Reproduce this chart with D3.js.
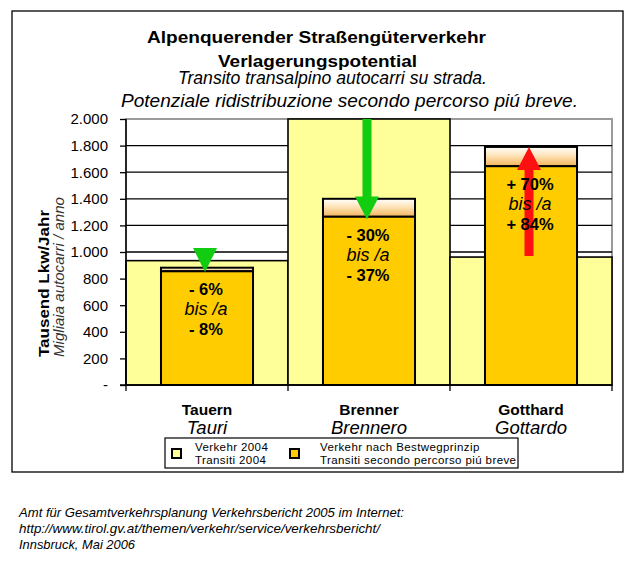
<!DOCTYPE html>
<html>
<head>
<meta charset="utf-8">
<script src="https://cdn.jsdelivr.net/npm/d3@7"></script>
<style>
  html, body { margin: 0; padding: 0; background: #fff; }
  svg { display: block; font-family: "Liberation Sans", Arial, sans-serif; }
</style>
</head>
<body>
<svg id="chart" width="637" height="586"></svg>
<script>
// ---- data ----
const categories   = ["Tauern", "Brenner", "Gotthard"];
const categoriesIt = ["Tauri", "Brennero", "Gottardo"];
const traffic2004  = [935, 2000, 962];      // Verkehr 2004 / Transiti 2004
const bestwegLow   = [855, 1265, 1645];     // Verkehr nach Bestwegprinzip (lower estimate)
const bestwegHigh  = [882, 1400, 1790];     // upper estimate
const changeFirst  = ["- 6%", "- 30%", "+ 70%"];
const changeSecond = ["- 8%", "- 37%", "+ 84%"];
const arrowFrom    = [1030, 2000, 970];
const arrowTo      = [850, 1245, 1790];
const arrowColor   = ["#11cc11", "#11cc11", "#ff1010"];
const yTicks       = [0, 200, 400, 600, 800, 1000, 1200, 1400, 1600, 1800, 2000];
const yTickLabels  = ["-", "200", "400", "600", "800", "1.000", "1.200", "1.400", "1.600", "1.800", "2.000"];
const legendLabels = [["Verkehr 2004", "Transiti 2004"], ["Verkehr nach Bestwegprinzip", "Transiti secondo percorso piú breve"]];
const titleLines   = ["Alpenquerender Straßengüterverkehr", "Verlagerungspotential"];
const subtitleLines = ["Transito transalpino autocarri su strada.", "Potenziale ridistribuzione secondo percorso piú breve."];
const footerLines  = ["Amt für Gesamtverkehrsplanung Verkehrsbericht 2005 im Internet:",
                      "http://www.tirol.gv.at/themen/verkehr/service/verkehrsbericht/",
                      "Innsbruck, Mai 2006"];

// ---- layout ----
const svg = d3.select("#chart");
const plot = { left: 126, right: 612, top: 119, bottom: 385 };
const LIGHT = "#ffff99", GOLD = "#ffcc00";

const x = d3.scaleBand().domain(categories).range([plot.left, plot.right]).padding(0);
const y = d3.scaleLinear().domain([0, 2000]).range([plot.bottom, plot.top]);
const inner = d3.scaleBand().domain([0]).range([0, x.bandwidth()]).paddingInner(0).paddingOuter(0.38);

// gradient
const defs = svg.append("defs");
const grad = defs.append("linearGradient").attr("id", "band").attr("x1", 0).attr("y1", 0).attr("x2", 0).attr("y2", 1);
grad.append("stop").attr("offset", "0%").attr("stop-color", "#ffffff");
grad.append("stop").attr("offset", "45%").attr("stop-color", "#fde3b8");
grad.append("stop").attr("offset", "100%").attr("stop-color", "#f4b45a");

// outer frame
svg.append("rect").attr("x", 12).attr("y", 11).attr("width", 611).attr("height", 461)
  .attr("fill", "#fff").attr("stroke", "#000").attr("stroke-width", 1.3);

// plot background + gray border
svg.append("rect").attr("x", plot.left).attr("y", plot.top)
  .attr("width", plot.right - plot.left).attr("height", plot.bottom - plot.top)
  .attr("fill", "#fff").attr("stroke", "#9a9a9a").attr("stroke-width", 2);

// gridlines
svg.append("g").selectAll("line").data(yTicks.filter(d => d > 0 && d < 2000)).join("line")
  .attr("x1", plot.left).attr("x2", plot.right)
  .attr("y1", d => y(d)).attr("y2", d => y(d))
  .attr("stroke", "#000").attr("stroke-width", 1.3);

// 2004 bars (full band width)
svg.append("g").selectAll("rect").data(categories).join("rect")
  .attr("x", d => x(d)).attr("width", x.bandwidth())
  .attr("y", (d, i) => y(traffic2004[i])).attr("height", (d, i) => y(0) - y(traffic2004[i]))
  .attr("fill", LIGHT).attr("stroke", "#000").attr("stroke-width", 1.6);

// Bestweg range strip (gradient between low and high estimate)
svg.append("g").selectAll("rect").data(categories).join("rect")
  .attr("x", d => x(d) + inner(0)).attr("width", inner.bandwidth())
  .attr("y", (d, i) => y(bestwegHigh[i])).attr("height", (d, i) => y(bestwegLow[i]) - y(bestwegHigh[i]))
  .attr("fill", "url(#band)").attr("stroke", "#000").attr("stroke-width", 2);

// Bestweg solid bars
svg.append("g").selectAll("rect").data(categories).join("rect")
  .attr("x", d => x(d) + inner(0)).attr("width", inner.bandwidth())
  .attr("y", (d, i) => y(bestwegLow[i])).attr("height", (d, i) => y(0) - y(bestwegLow[i]))
  .attr("fill", GOLD).attr("stroke", "#000").attr("stroke-width", 2);

// y axis
const yAxis = svg.append("g").attr("transform", `translate(${plot.left},0)`)
  .call(d3.axisLeft(y).tickValues(yTicks).tickFormat((d, i) => yTickLabels[i]).tickSize(6).tickPadding(12));
yAxis.select(".domain").attr("stroke", "#000").attr("stroke-width", 1.5).attr("d", `M0,${plot.top}V${plot.bottom}`);
yAxis.selectAll(".tick line").attr("stroke", "#000").attr("stroke-width", 1.3);
yAxis.selectAll(".tick text").attr("font-size", 15).attr("fill", "#000")
  .attr("font-family", "Liberation Sans, Arial, sans-serif");

// x axis
const xAxis = svg.append("g").attr("transform", `translate(0,${plot.bottom})`)
  .call(d3.axisBottom(x).tickSize(0).tickFormat(""));
xAxis.select(".domain").attr("stroke", "#000").attr("stroke-width", 1.6).attr("d", `M${plot.left - 6},0H${plot.right}`);
svg.append("g").selectAll("line").data([0, 1, 2, 3]).join("line")
  .attr("x1", i => plot.left + i * x.bandwidth()).attr("x2", i => plot.left + i * x.bandwidth())
  .attr("y1", plot.bottom).attr("y2", plot.bottom + 6)
  .attr("stroke", "#000").attr("stroke-width", 1.3);

// arrows
const headL = 23, headW = 24, shaftW = 9;
svg.append("g").selectAll("path").data(categories).join("path")
  .attr("fill", (d, i) => arrowColor[i])
  .attr("d", (d, i) => {
    const cx = x(d) + x.bandwidth() / 2 - 2;
    const y0 = y(arrowFrom[i]), y1 = y(arrowTo[i]);
    const dir = y1 > y0 ? 1 : -1;
    const len = Math.abs(y1 - y0);
    const hb = y1 - dir * headL;
    if (len <= headL + 1) {
      return `M${cx - headW / 2},${y0}L${cx + headW / 2},${y0}L${cx},${y1}Z`;
    }
    return `M${cx - shaftW / 2},${y0}L${cx + shaftW / 2},${y0}L${cx + shaftW / 2},${hb}` +
           `L${cx + headW / 2},${hb}L${cx},${y1}L${cx - headW / 2},${hb}L${cx - shaftW / 2},${hb}Z`;
  });

// percentage labels
const lbl = svg.append("g").attr("text-anchor", "middle").attr("fill", "#000");
categories.forEach((c, i) => {
  const cx = x(c) + x.bandwidth() / 2 - 1;
  const by = y(bestwegLow[i]) + 24;
  lbl.append("text").attr("x", cx).attr("y", by).attr("font-weight", "bold").attr("font-size", 16.5).text(changeFirst[i]);
  lbl.append("text").attr("x", cx).attr("y", by + 20).attr("font-style", "italic").attr("font-size", 18).text("bis /a");
  lbl.append("text").attr("x", cx).attr("y", by + 40).attr("font-weight", "bold").attr("font-size", 16.5).text(changeSecond[i]);
});

// category labels
const cat = svg.append("g").attr("text-anchor", "middle").attr("fill", "#000");
categories.forEach((c, i) => {
  const cx = x(c) + x.bandwidth() / 2;
  cat.append("text").attr("x", cx).attr("y", 415).attr("font-weight", "bold").attr("font-size", 15.5).text(c);
  cat.append("text").attr("x", cx).attr("y", 434).attr("font-style", "italic").attr("font-size", 18.5).text(categoriesIt[i]);
});

// titles
svg.append("text").attr("x", 316.5).attr("y", 43).attr("text-anchor", "middle")
  .attr("font-weight", "bold").attr("font-size", 16.5).attr("textLength", 339).attr("lengthAdjust", "spacingAndGlyphs").text(titleLines[0]);
svg.append("text").attr("x", 317.5).attr("y", 66.5).attr("text-anchor", "middle")
  .attr("font-weight", "bold").attr("font-size", 16.5).attr("textLength", 199).attr("lengthAdjust", "spacingAndGlyphs").text(titleLines[1]);
svg.append("text").attr("x", 332.5).attr("y", 84).attr("text-anchor", "middle")
  .attr("font-style", "italic").attr("font-size", 17.5).attr("textLength", 309).attr("lengthAdjust", "spacingAndGlyphs").text(subtitleLines[0]);
svg.append("text").attr("x", 349.5).attr("y", 107).attr("text-anchor", "middle")
  .attr("font-style", "italic").attr("font-size", 17.5).attr("textLength", 457).attr("lengthAdjust", "spacingAndGlyphs").text(subtitleLines[1]);

// y axis titles
svg.append("text").attr("transform", "translate(49,357) rotate(-90)")
  .attr("font-weight", "bold").attr("font-size", 15).attr("textLength", 147).attr("lengthAdjust", "spacingAndGlyphs")
  .text("Tausend Lkw/Jahr");
svg.append("text").attr("transform", "translate(64,357) rotate(-90)")
  .attr("font-style", "italic").attr("font-size", 14).attr("fill", "#333").attr("textLength", 160).attr("lengthAdjust", "spacingAndGlyphs")
  .text("Migliaia autocarri / anno");

// legend
const lg = svg.append("g");
lg.append("rect").attr("x", 165).attr("y", 438).attr("width", 353).attr("height", 30)
  .attr("fill", "#fff").attr("stroke", "#000").attr("stroke-width", 1.2);
const legendItems = [{ fill: LIGHT, mx: 172, tx: 195 }, { fill: GOLD, mx: 290, tx: 320 }];
legendItems.forEach((it, i) => {
  lg.append("rect").attr("x", it.mx).attr("y", 449).attr("width", 9).attr("height", 9)
    .attr("fill", it.fill).attr("stroke", "#000").attr("stroke-width", 2);
  lg.append("text").attr("x", it.tx).attr("y", 451).attr("font-size", 11.5).attr("letter-spacing", 0.4).text(legendLabels[i][0]);
  lg.append("text").attr("x", it.tx).attr("y", 464).attr("font-size", 11.5).attr("letter-spacing", 0.4).text(legendLabels[i][1]);
});

// footer
const footLens = [385, 361, 116];
footerLines.forEach((t, i) => {
  svg.append("text").attr("x", 19).attr("y", 517 + i * 16).attr("font-style", "italic").attr("font-size", 13)
    .attr("textLength", footLens[i]).attr("lengthAdjust", "spacingAndGlyphs").text(t);
});
</script>
</body>
</html>
